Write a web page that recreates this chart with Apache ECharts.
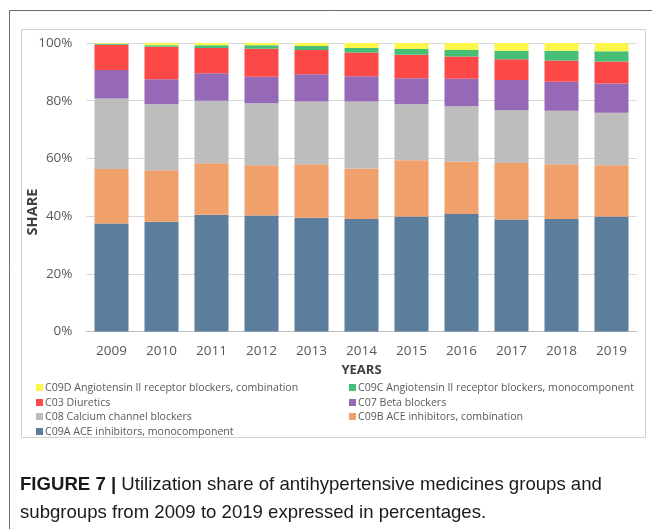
<!DOCTYPE html>
<html>
<head>
<meta charset="utf-8">
<script src="https://cdn.jsdelivr.net/npm/echarts@6/dist/echarts.min.js"></script>
<style>
html,body{margin:0;padding:0;background:#fff;}
#chart{width:652px;height:529px;}
</style>
</head>
<body>
<div id="chart"></div>
<script>
var years = ['2009','2010','2011','2012','2013','2014','2015','2016','2017','2018','2019'];
var yTicks = [0, 20, 40, 60, 80, 100];
var c09a = [37.4, 38.0, 40.5, 40.2, 39.4, 39.0, 39.9, 40.7, 38.8, 39.0, 39.9];
var c09b = [18.9, 17.9, 17.8, 17.4, 18.6, 17.5, 19.5, 18.1, 19.6, 19.0, 17.7];
var c08  = [24.5, 22.9, 21.7, 21.5, 21.7, 23.2, 19.4, 19.3, 18.3, 18.5, 18.2];
var c07  = [9.8, 8.6, 9.5, 9.2, 9.5, 8.8, 9.0, 9.5, 10.5, 10.1, 10.2];
var c03  = [8.8, 11.3, 8.8, 9.7, 8.4, 8.2, 8.1, 7.7, 7.2, 7.3, 7.6];
var c09c = [0.3, 0.5, 0.9, 1.2, 1.4, 1.6, 2.0, 2.3, 2.9, 3.4, 3.5];
var c09d = [0.3, 0.8, 0.8, 0.8, 1.0, 1.7, 2.1, 2.4, 2.7, 2.7, 2.9];

var names = {
  c09a: 'C09A ACE inhibitors, monocomponent',
  c09b: 'C09B ACE inhibitors, combination',
  c08: 'C08 Calcium channel blockers',
  c07: 'C07 Beta blockers',
  c03: 'C03 Diuretics',
  c09c: 'C09C Angiotensin II receptor blockers, monocomponent',
  c09d: 'C09D Angiotensin II receptor blockers, combination'
};
var colors = {
  c09a: '#5b7e9d', c09b: '#efa06b', c08: '#bdbdbd', c07: '#9569b6',
  c03: '#fd4848', c09c: '#45bf78', c09d: '#fbf64a'
};
var order = ['c09a','c09b','c08','c07','c03','c09c','c09d'];
var dataMap = {c09a:c09a, c09b:c09b, c08:c08, c07:c07, c03:c03, c09c:c09c, c09d:c09d};

var FONT = 'Open Sans';
var series = order.map(function(k){
  return {
    name: names[k], type: 'bar', stack: 'total', barWidth: 34,
    itemStyle: {color: colors[k]},
    data: dataMap[k]
  };
});

// legend layout: [key, left, top]
var legendPos = [
  ['c09d', 36, 382], ['c09c', 349, 382],
  ['c03', 36, 397],  ['c07', 349, 397],
  ['c08', 36, 411],  ['c09b', 349, 411],
  ['c09a', 36, 426]
];
var legends = legendPos.map(function(p){
  return {
    data: [names[p[0]]], left: p[1], top: p[2], padding: 0,
    itemWidth: 7, itemHeight: 7, icon: 'rect', selectedMode: false,
    textStyle: {fontFamily: FONT, fontSize: 10.6, color: '#595959', padding: [0,0,0,-3]}
  };
});

var chart = echarts.init(document.getElementById('chart'), null, {renderer: 'canvas'});
chart.setOption({
  backgroundColor: '#fff',
  animation: false,
  legend: legends,
  grid: {left: 86.5, right: 15.5, top: 43, bottom: 197.5, containLabel: false},
  xAxis: {
    type: 'category', data: years,
    axisLine: {lineStyle: {color: '#bfbfbf', width: 1}},
    axisTick: {show: false},
    axisLabel: {fontFamily: FONT, fontSize: 13.5, color: '#595959', margin: 13},
    name: 'YEARS', nameLocation: 'middle', nameGap: 32,
    nameTextStyle: {fontFamily: FONT, fontSize: 13, fontWeight: 'bold', color: '#404040'}
  },
  yAxis: {
    type: 'value', min: yTicks[0], max: yTicks[yTicks.length-1], interval: 20,
    axisLine: {show: false}, axisTick: {show: false},
    splitLine: {lineStyle: {color: '#d9d9d9', width: 1}},
    axisLabel: {fontFamily: FONT, fontSize: 13.5, color: '#595959', margin: 14,
      formatter: function(v){ return v + '%'; }},
    name: '', nameMoveOverlap: false
  },
  series: series,
  graphic: [
    {type: 'line', shape: {x1: 9.5, y1: 10.5, x2: 652, y2: 10.5}, style: {stroke: '#6b6b6b', lineWidth: 1}, silent: true},
    {type: 'line', shape: {x1: 9.5, y1: 10.5, x2: 9.5, y2: 529}, style: {stroke: '#6b6b6b', lineWidth: 1}, silent: true},
    {type: 'rect', shape: {x: 21.5, y: 29.5, width: 624, height: 408}, style: {fill: 'none', stroke: '#d0d0d0', lineWidth: 1}, silent: true, z: -1},
    {type: 'text', x: 33, y: 212, rotation: Math.PI / 2, style: {
      text: 'SHARE', fontFamily: FONT, fontSize: 14.5, fontWeight: 'bold', fill: '#404040',
      textAlign: 'center', textVerticalAlign: 'middle'}},
    {type: 'text', left: 20, top: 475, style: {
      text: '{b|FIGURE 7 |} Utilization share of antihypertensive medicines groups and',
      rich: {b: {fontWeight: 'bold', fontFamily: 'Liberation Sans', fontSize: 18.6, fill: '#1a1a1a'}},
      fontFamily: 'Liberation Sans', fontSize: 18.6, fill: '#1a1a1a'}},
    {type: 'text', left: 20, top: 503, style: {
      text: 'subgroups from 2009 to 2019 expressed in percentages.',
      fontFamily: 'Liberation Sans', fontSize: 18.6, fill: '#1a1a1a'}}
  ]
});
</script>
</body>
</html>
